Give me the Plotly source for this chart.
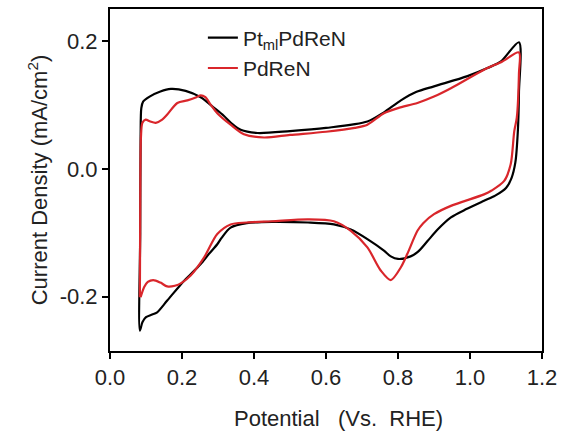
import plotly.graph_objects as go

# PtmlPdReN (black) CV loop
black_x = [0.083, 0.084, 0.085, 0.087, 0.092, 0.11, 0.14, 0.169, 0.21, 0.252, 0.29, 0.316, 0.34, 0.363, 0.41, 0.5, 0.6, 0.715, 0.76, 0.808, 0.85, 0.90, 0.993, 1.05, 1.086, 1.136,
           1.136, 1.133, 1.126, 1.115, 1.10, 1.07, 1.039, 0.99, 0.947, 0.91, 0.882, 0.855, 0.835, 0.80, 0.78, 0.761, 0.715, 0.669, 0.622, 0.55, 0.45, 0.38, 0.335, 0.31, 0.298, 0.275, 0.252, 0.224, 0.206, 0.159, 0.13, 0.117, 0.10, 0.09, 0.083]
black_y = [-0.253, -0.10, 0.05, 0.095, 0.105, 0.113, 0.121, 0.125, 0.122, 0.112, 0.095, 0.083, 0.07, 0.061, 0.056, 0.059, 0.064, 0.074, 0.088, 0.107, 0.12, 0.129, 0.145, 0.158, 0.168, 0.198,
           0.12, 0.06, 0.01, -0.015, -0.03, -0.042, -0.05, -0.063, -0.076, -0.095, -0.113, -0.13, -0.137, -0.141, -0.137, -0.128, -0.110, -0.095, -0.087, -0.084, -0.083, -0.085, -0.092, -0.108, -0.118, -0.133, -0.149, -0.165, -0.175, -0.206, -0.225, -0.228, -0.232, -0.24, -0.253]

# PdReN (red) CV loop
red_x = [0.083, 0.084, 0.086, 0.09, 0.099, 0.112, 0.127, 0.145, 0.159, 0.187, 0.215, 0.24, 0.252, 0.265, 0.28, 0.298, 0.335, 0.372, 0.428, 0.5, 0.6, 0.68, 0.715, 0.761, 0.80, 0.854, 0.90, 0.947, 1.039, 1.09, 1.136,
         1.136, 1.13, 1.123, 1.113, 1.095, 1.06, 1.039, 0.947, 0.90, 0.87, 0.854, 0.826, 0.808, 0.78, 0.752, 0.715, 0.669, 0.622, 0.55, 0.45, 0.38, 0.335, 0.298, 0.261, 0.224, 0.2, 0.18, 0.159, 0.14, 0.12, 0.105, 0.095, 0.085]
red_y = [-0.201, -0.05, 0.05, 0.072, 0.077, 0.074, 0.072, 0.077, 0.085, 0.103, 0.107, 0.112, 0.115, 0.112, 0.10, 0.087, 0.069, 0.054, 0.049, 0.053, 0.058, 0.064, 0.069, 0.087, 0.095, 0.103, 0.113, 0.126, 0.155, 0.168, 0.182,
         0.15, 0.08, 0.059, 0.007, -0.019, -0.034, -0.040, -0.058, -0.071, -0.085, -0.097, -0.133, -0.154, -0.174, -0.159, -0.123, -0.097, -0.082, -0.079, -0.082, -0.084, -0.087, -0.102, -0.139, -0.167, -0.178, -0.183, -0.184, -0.178, -0.174, -0.177, -0.185, -0.201]

x_ticks = [0.0, 0.2, 0.4, 0.6, 0.8, 1.0, 1.2]
x_ticklabels = ["0.0", "0.2", "0.4", "0.6", "0.8", "1.0", "1.2"]
y_ticks = [-0.2, 0.0, 0.2]
y_ticklabels = ["-0.2", "0.0", "0.2"]

FONT = "Liberation Sans, Arial, sans-serif"

fig = go.Figure()
fig.add_trace(go.Scatter(x=black_x, y=black_y, mode="lines", name="Pt<sub>ml</sub>PdReN",
                         line=dict(color="#000000", width=2.2, shape="spline", smoothing=0.8)))
fig.add_trace(go.Scatter(x=red_x, y=red_y, mode="lines", name="PdReN",
                         line=dict(color="#d9262b", width=2.2, shape="spline", smoothing=0.8)))

axis_common = dict(showline=True, linecolor="black", linewidth=2, mirror=True, ticks="outside",
                   ticklen=6, tickwidth=2, tickcolor="black", showgrid=False, zeroline=False,
                   tickfont=dict(family=FONT, size=22, color="#222"))

fig.update_xaxes(range=[0, 1.2], tickvals=x_ticks, ticktext=x_ticklabels, **axis_common)
fig.update_yaxes(range=[-0.285, 0.25], tickvals=y_ticks, ticktext=y_ticklabels,
                 title=dict(text="Current Density (mA/cm<sup>2</sup>)", font=dict(family=FONT, size=22, color="#222"), standoff=6),
                 **axis_common)

fig.add_annotation(text="Potential\u00a0\u00a0\u00a0(Vs.\u00a0\u00a0RHE)", xref="paper", yref="paper",
                   x=0.53, y=-0.196, xanchor="center", yanchor="middle", showarrow=False,
                   font=dict(family=FONT, size=22, color="#222"))

fig.update_layout(width=574, height=431, margin=dict(l=110, r=32, t=7, b=80),
                  plot_bgcolor="white", paper_bgcolor="white",
                  legend=dict(x=0.215, y=0.975, xanchor="left", yanchor="top", bgcolor="rgba(0,0,0,0)",
                              font=dict(family=FONT, size=21, color="#222"), tracegroupgap=0, itemwidth=30),
                  showlegend=True)

fig.write_html("out.html")
